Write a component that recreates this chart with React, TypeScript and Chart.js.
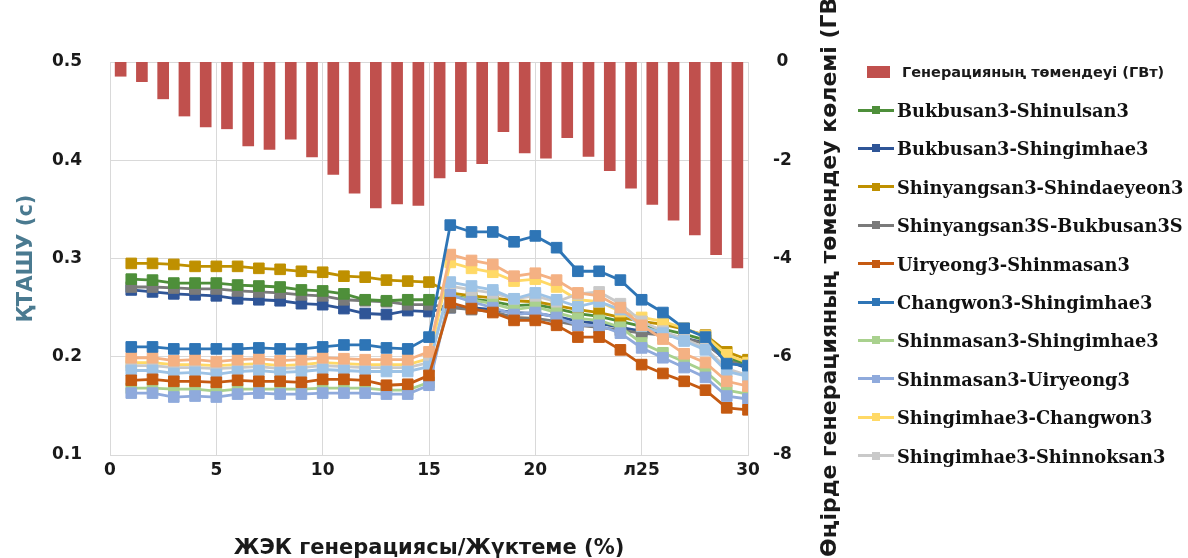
import React, { useEffect, useRef } from "react";
import { Chart, registerables } from "chart.js";

Chart.register(...registerables);

// ---------- data ----------
const xBar = [0.5, 1.5, 2.5, 3.5, 4.5, 5.5, 6.5, 7.5, 8.5, 9.5, 10.5, 11.5, 12.5, 13.5, 14.5, 15.5, 16.5, 17.5, 18.5, 19.5, 20.5, 21.5, 22.5, 23.5, 24.5, 25.5, 26.5, 27.5, 28.5, 29.5];
const xLine = [1, 2, 3, 4, 5, 6, 7, 8, 9, 10, 11, 12, 13, 14, 15, 16, 17, 18, 19, 20, 21, 22, 23, 24, 25, 26, 27, 28, 29, 30];

const generationDrop = [-0.29, -0.40, -0.75, -1.10, -1.32, -1.36, -1.71, -1.78, -1.57, -1.93, -2.29, -2.67, -2.97, -2.89, -2.92, -2.36, -2.23, -2.07, -1.42, -1.85, -1.96, -1.54, -1.92, -2.21, -2.57, -2.90, -3.22, -3.52, -3.92, -4.19];

const bukbusanShinulsan = [0.279, 0.278, 0.275, 0.275, 0.275, 0.273, 0.272, 0.271, 0.268, 0.267, 0.264, 0.258, 0.257, 0.258, 0.258, 0.262, 0.259, 0.256, 0.252, 0.253, 0.249, 0.244, 0.241, 0.236, 0.231, 0.228, 0.223, 0.217, 0.200, 0.192];
const bukbusanShingimhae = [0.268, 0.266, 0.264, 0.263, 0.262, 0.259, 0.258, 0.257, 0.254, 0.253, 0.249, 0.244, 0.243, 0.247, 0.246, 0.250, 0.250, 0.248, 0.245, 0.244, 0.241, 0.236, 0.234, 0.230, 0.226, 0.223, 0.219, 0.214, 0.196, 0.188];
const shinyangsanShindaeyeon = [0.295, 0.295, 0.294, 0.292, 0.292, 0.292, 0.290, 0.289, 0.287, 0.286, 0.282, 0.281, 0.278, 0.277, 0.276, 0.265, 0.262, 0.260, 0.257, 0.256, 0.252, 0.248, 0.245, 0.240, 0.236, 0.233, 0.228, 0.222, 0.205, 0.197];
const shinyangsanSBukbusanS = [0.271, 0.271, 0.270, 0.269, 0.269, 0.267, 0.266, 0.265, 0.263, 0.262, 0.258, 0.257, 0.256, 0.253, 0.253, 0.250, 0.248, 0.246, 0.240, 0.239, 0.236, 0.232, 0.230, 0.227, 0.224, 0.222, 0.219, 0.213, 0.197, 0.190];
const uiryeongShinmasan = [0.176, 0.177, 0.175, 0.175, 0.174, 0.176, 0.175, 0.175, 0.174, 0.177, 0.177, 0.176, 0.171, 0.172, 0.181, 0.255, 0.249, 0.245, 0.237, 0.237, 0.232, 0.220, 0.220, 0.207, 0.192, 0.183, 0.175, 0.166, 0.148, 0.146];
const changwonShingimhae = [0.210, 0.210, 0.208, 0.208, 0.208, 0.208, 0.209, 0.208, 0.208, 0.210, 0.212, 0.212, 0.209, 0.208, 0.220, 0.334, 0.327, 0.327, 0.317, 0.323, 0.311, 0.287, 0.287, 0.278, 0.258, 0.245, 0.229, 0.220, 0.193, 0.191];
const shinmasanShingimhae = [0.168, 0.168, 0.167, 0.167, 0.165, 0.167, 0.167, 0.167, 0.167, 0.168, 0.168, 0.168, 0.166, 0.166, 0.174, 0.262, 0.258, 0.254, 0.248, 0.251, 0.245, 0.239, 0.237, 0.230, 0.214, 0.204, 0.195, 0.185, 0.166, 0.162];
const shinmasanUiryeong = [0.163, 0.163, 0.159, 0.160, 0.159, 0.162, 0.163, 0.162, 0.162, 0.163, 0.163, 0.163, 0.162, 0.162, 0.171, 0.263, 0.256, 0.250, 0.243, 0.245, 0.240, 0.232, 0.232, 0.224, 0.209, 0.199, 0.189, 0.179, 0.160, 0.157];
const shingimhaeChangwon = [0.194, 0.194, 0.192, 0.192, 0.191, 0.192, 0.193, 0.191, 0.192, 0.194, 0.193, 0.192, 0.192, 0.192, 0.198, 0.296, 0.290, 0.286, 0.277, 0.279, 0.271, 0.258, 0.256, 0.246, 0.240, 0.236, 0.229, 0.221, 0.202, 0.194];
const shingimhaeShinnoksan = [0.191, 0.191, 0.189, 0.189, 0.188, 0.189, 0.190, 0.188, 0.189, 0.191, 0.190, 0.189, 0.189, 0.189, 0.194, 0.272, 0.268, 0.265, 0.259, 0.262, 0.256, 0.264, 0.266, 0.254, 0.236, 0.226, 0.218, 0.209, 0.188, 0.181];
// two further series drawn in the plot but not listed in the legend
const extraSalmon = [0.199, 0.199, 0.196, 0.197, 0.195, 0.197, 0.198, 0.196, 0.197, 0.199, 0.198, 0.197, 0.197, 0.197, 0.205, 0.304, 0.298, 0.294, 0.282, 0.285, 0.278, 0.265, 0.262, 0.250, 0.232, 0.218, 0.203, 0.194, 0.175, 0.170];
const extraSkyBlue = [0.186, 0.186, 0.183, 0.184, 0.182, 0.185, 0.186, 0.184, 0.185, 0.187, 0.186, 0.185, 0.185, 0.185, 0.190, 0.276, 0.272, 0.268, 0.259, 0.265, 0.258, 0.251, 0.256, 0.248, 0.231, 0.224, 0.216, 0.207, 0.185, 0.180];

const xTickLabels = ["0", "5", "10", "15", "20", "л25", "30"];

const barLabel = "Генерацияның төмендеуі (ГВт)";
const xTitle = "ЖЭК генерациясы/Жүктеме (%)";
const yTitle = "ҚТАШУ (с)";
const y2Title = "Өңірде генерацияның төмендеу көлемі (ГВт)";

type Series = { name: string; values: number[]; color: string; legend: boolean };

// listed in drawing priority (first = on top)
const series: Series[] = [
  { name: "Changwon3-Shingimhae3", values: changwonShingimhae, color: "#2E75B6", legend: true },
  { name: "Uiryeong3-Shinmasan3", values: uiryeongShinmasan, color: "#C55A11", legend: true },
  { name: "Shinmasan3-Uiryeong3", values: shinmasanUiryeong, color: "#8FAADC", legend: true },
  { name: "extra-salmon", values: extraSalmon, color: "#F4B183", legend: false },
  { name: "extra-sky", values: extraSkyBlue, color: "#9DC3E6", legend: false },
  { name: "Shingimhae3-Shinnoksan3", values: shingimhaeShinnoksan, color: "#C9C9C9", legend: true },
  { name: "Shingimhae3-Changwon3", values: shingimhaeChangwon, color: "#FFD966", legend: true },
  { name: "Shinmasan3-Shingimhae3", values: shinmasanShingimhae, color: "#A9D18E", legend: true },
  { name: "Shinyangsan3-Shindaeyeon3", values: shinyangsanShindaeyeon, color: "#BF9000", legend: true },
  { name: "Bukbusan3-Shinulsan3", values: bukbusanShinulsan, color: "#4E8F3A", legend: true },
  { name: "Shinyangsan3S-Bukbusan3S", values: shinyangsanSBukbusanS, color: "#7A7A7A", legend: true },
  { name: "Bukbusan3-Shingimhae3", values: bukbusanShingimhae, color: "#2F5597", legend: true },
];

const legendOrder = [
  "Bukbusan3-Shinulsan3",
  "Bukbusan3-Shingimhae3",
  "Shinyangsan3-Shindaeyeon3",
  "Shinyangsan3S-Bukbusan3S",
  "Uiryeong3-Shinmasan3",
  "Changwon3-Shingimhae3",
  "Shinmasan3-Shingimhae3",
  "Shinmasan3-Uiryeong3",
  "Shingimhae3-Changwon3",
  "Shingimhae3-Shinnoksan3",
];

const BAR_COLOR = "#C0504D";
const SANS = "'DejaVu Sans', sans-serif";
const SERIF = "'DejaVu Serif', serif";

export default function App() {
  const ref = useRef<HTMLCanvasElement>(null);

  useEffect(() => {
    if (!ref.current) return;
    const lineSets = series.map((s) => ({
      type: "line" as const,
      label: s.name,
      data: xLine.map((x, i) => ({ x, y: s.values[i] })),
      xAxisID: "x",
      yAxisID: "y",
      borderColor: s.color,
      backgroundColor: s.color,
      borderWidth: 2.8,
      pointStyle: "rect",
      pointRadius: 7.5,
      pointBorderWidth: 1,
      pointBorderColor: s.color,
      pointBackgroundColor: s.color,
      tension: 0,
      order: 1,
    }));
    const chart = new Chart(ref.current, {
      type: "bar",
      data: {
        datasets: [
          {
            type: "bar" as const,
            label: barLabel,
            data: xBar.map((x, i) => ({ x, y: generationDrop[i] })),
            xAxisID: "x",
            yAxisID: "y2",
            backgroundColor: BAR_COLOR,
            borderWidth: 0,
            barThickness: 11,
            order: 100,
          },
          ...lineSets,
        ] as any,
      },
      options: {
        responsive: false,
        maintainAspectRatio: false,
        animation: false,
        layout: { padding: { left: 0, top: 62, right: 380, bottom: 0 } },
        plugins: { legend: { display: false }, tooltip: { enabled: false } },
        scales: {
          x: {
            type: "linear",
            position: "bottom",
            min: 0,
            max: 30,
            offset: false,
            ticks: {
              stepSize: 5,
              padding: 5,
              color: "#1a1a1a",
              font: { family: SANS, size: 17, weight: "bold" },
              callback: (v: any) => xTickLabels[Math.round(Number(v) / 5)] ?? "",
            },
            grid: { color: "#D9D9D9", lineWidth: 1, drawTicks: false, offset: false },
            border: { display: true, color: "#D9D9D9" },
            title: {
              display: true,
              text: xTitle,
              color: "#1a1a1a",
              font: { family: SANS, size: 21, weight: "bold" },
              padding: { top: 0, bottom: -3 },
            },
            afterFit: (s: any) => {
              s.height = 103;
            },
          },
          y: {
            type: "linear",
            position: "left",
            min: 0.1,
            max: 0.5,
            ticks: {
              stepSize: 0.1,
              padding: 28,
              color: "#1a1a1a",
              font: { family: SANS, size: 17, weight: "bold" },
              callback: (v: any) => Number(v).toFixed(1),
            },
            grid: { color: "#D9D9D9", lineWidth: 1, drawTicks: false },
            border: { display: true, color: "#D9D9D9" },
            title: {
              display: true,
              text: yTitle,
              color: "#4A7A90",
              font: { family: SANS, size: 21, weight: "bold" },
              padding: { top: 14, bottom: 0 },
            },
            afterFit: (s: any) => {
              s.width = 110;
            },
          },
          y2: {
            type: "linear",
            position: "right",
            min: -8,
            max: 0,
            ticks: {
              stepSize: 2,
              padding: 25,
              crossAlign: "center",
              color: "#1a1a1a",
              font: { family: SANS, size: 17, weight: "bold" },
            },
            grid: { display: false, drawTicks: false },
            border: { display: false },
            afterFit: (s: any) => {
              s.width = 60;
            },
          },
        } as any,
      },
    });
    return () => chart.destroy();
  }, []);

  const legendRows = legendOrder.map((name) => series.find((s) => s.name === name)!);

  return (
    <div
      style={{
        position: "fixed",
        left: 0,
        top: 0,
        width: 1188,
        height: 558,
        background: "#ffffff",
        overflow: "hidden",
      }}
    >
      <canvas ref={ref} width={1188} height={558} style={{ display: "block", width: 1188, height: 558 }} />
      {/* right axis title, reading bottom to top */}
      <div
        style={{
          position: "absolute",
          left: 816,
          top: 557,
          transformOrigin: "0 0",
          transform: "rotate(-90deg)",
          whiteSpace: "nowrap",
          fontFamily: SANS,
          fontWeight: "bold",
          fontSize: 22,
          lineHeight: "26px",
          color: "#1a1a1a",
        }}
      >
        {y2Title}
      </div>
      {/* legend */}
      <div style={{ position: "absolute", left: 867, top: 66, width: 23, height: 12, background: BAR_COLOR }} />
      <div
        style={{
          position: "absolute",
          left: 902,
          top: 72,
          transform: "translateY(-50%)",
          whiteSpace: "nowrap",
          fontFamily: SANS,
          fontWeight: "bold",
          fontSize: 14.5,
          color: "#1a1a1a",
        }}
      >
        {barLabel}
      </div>
      {legendRows.map((s, i) => {
        const cy = 110 + i * 38.4;
        return (
          <React.Fragment key={s.name}>
            <div style={{ position: "absolute", left: 858, top: cy - 1.5, width: 36, height: 3, background: s.color }} />
            <div style={{ position: "absolute", left: 872, top: cy - 4, width: 8, height: 8, background: s.color }} />
            <div
              style={{
                position: "absolute",
                left: 897,
                top: cy,
                transform: "translateY(-50%)",
                whiteSpace: "nowrap",
                fontFamily: SERIF,
                fontWeight: "bold",
                fontSize: 17.8,
                color: "#111111",
              }}
            >
              {s.name}
            </div>
          </React.Fragment>
        );
      })}
    </div>
  );
}
